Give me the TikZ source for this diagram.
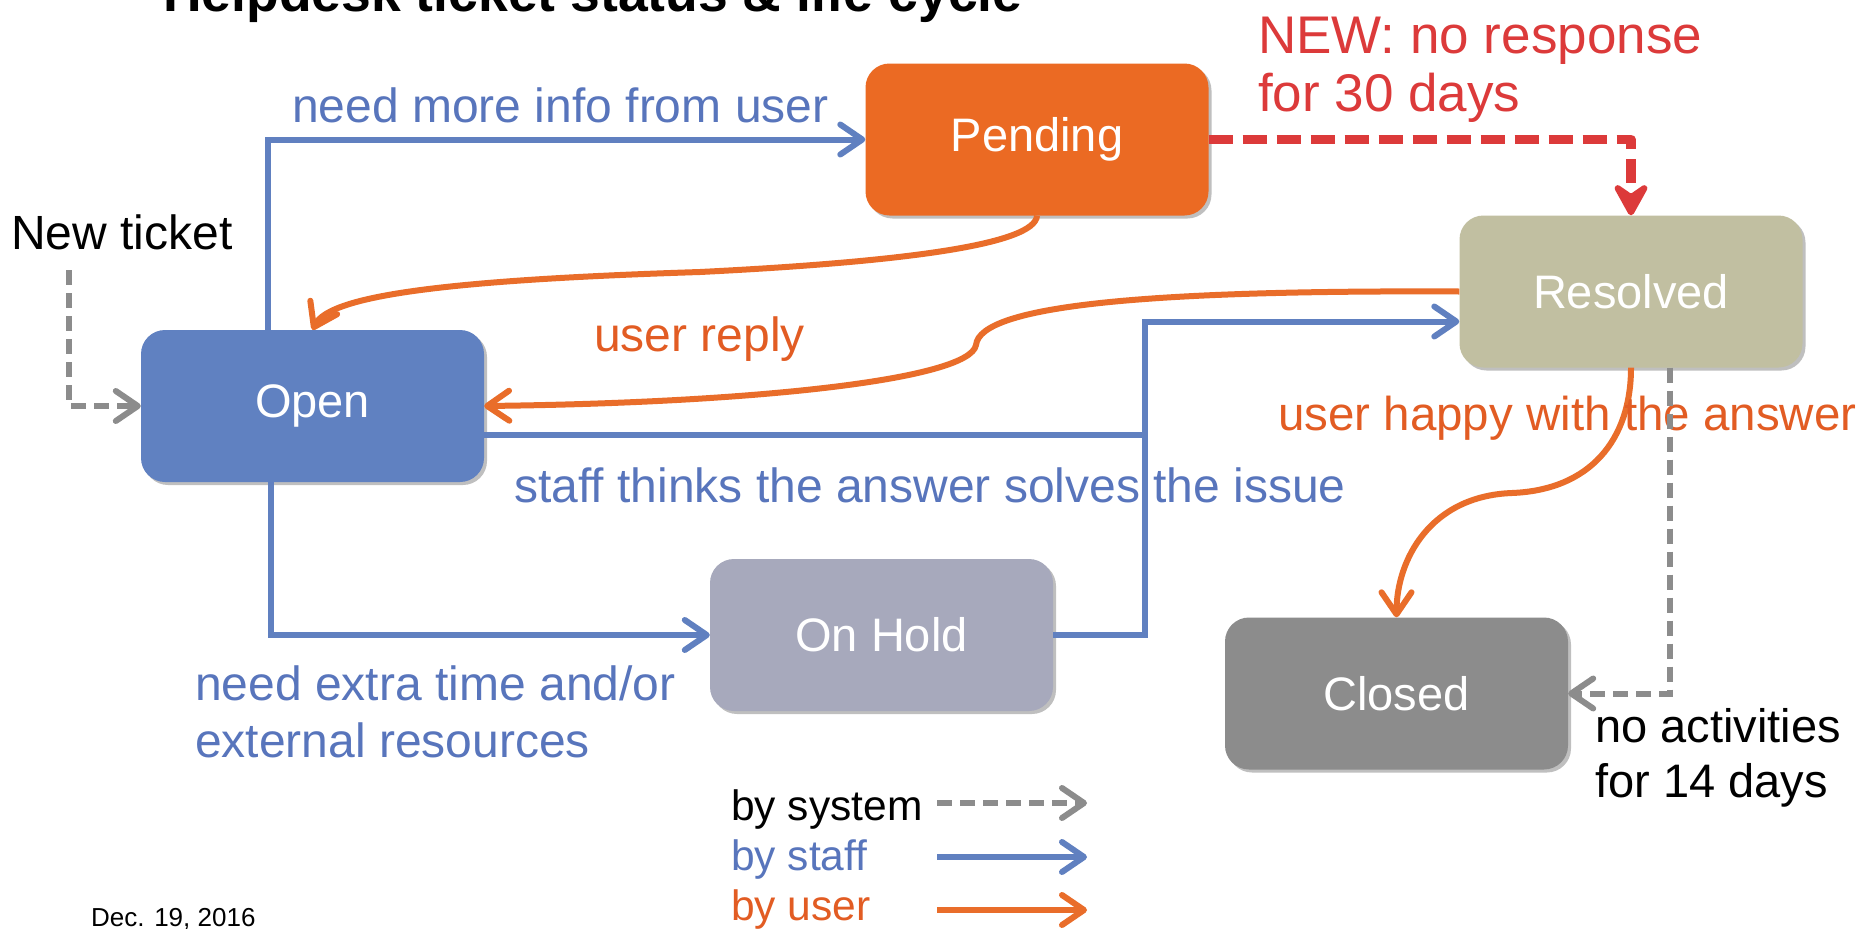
\documentclass[tikz,border=0pt]{standalone}
\usepackage{fontspec}
\setmainfont{Liberation Sans}
\usetikzlibrary{arrows.meta,shadows,calc}
\definecolor{cBlue}{RGB}{96,128,192}
\definecolor{cBlueTxt}{RGB}{88,117,188}
\definecolor{cOrange}{RGB}{233,109,42}
\definecolor{cOrangeTxt}{RGB}{226,92,35}
\definecolor{cPend}{RGB}{235,106,35}
\definecolor{cRed}{RGB}{220,58,58}
\definecolor{cGray}{RGB}{140,140,140}
\definecolor{cHold}{RGB}{167,169,188}
\definecolor{cRes}{RGB}{193,191,161}
\definecolor{cClosed}{RGB}{140,140,140}
\definecolor{cOpen}{RGB}{96,129,193}
\begin{document}
\begin{tikzpicture}[x=1pt,y=-1pt]
\tikzset{
  statebox/.style={rounded corners=24pt, minimum width=343pt, minimum height=152pt,
    text=white, inner sep=0pt, font={\fontsize{47}{56}\selectfont},
    drop shadow={shadow xshift=3pt,shadow yshift=-3pt,opacity=0.25,fill=black}},
  lbl/.style={anchor=base west, inner sep=0pt, font={\fontsize{48}{57}\selectfont}},
  staffline/.style={draw=cBlue, line width=6pt},
  staffarr/.style={staffline, -{Straight Barb[length=22pt,width=30pt,round]}},
  userarr/.style={draw=cOrange, line width=6pt, -{Straight Barb[length=22pt,width=30pt,round]}},
  sysarr/.style={draw=cGray, line width=6pt, dash pattern=on 15pt off 8pt, -{Straight Barb[length=22pt,width=30pt,round]}},
  redarr/.style={draw=cRed, line width=9.5pt, dash pattern=on 24pt off 10pt, line join=round,
    -{Stealth[length=40pt,width=44pt,inset=15pt,round]}}
}
\fill[white] (0,0) rectangle (1869,929);
\useasboundingbox (0,0) rectangle (1869,929);

% title (cut at top, as in the reference)
\node[anchor=base west, inner sep=0pt, font={\bfseries\fontsize{53.5}{60}\selectfont}] (title) at (163,11) {Helpdesk ticket status \& life cycle};

% states
\node[statebox, fill=cOpen] (open) at (312.5,406) {Open};
\node[statebox, fill=cPend] (pending) at (1037,139.5) {Pending};
\node[statebox, fill=cHold] (onhold) at (881.5,635) {On Hold};
\node[statebox, fill=cRes] (resolved) at (1631,291.5) {Resolved};
\node[statebox, fill=cClosed] (closed) at (1396.5,693.5) {Closed};

% new ticket
\node[lbl] (newticket) at (11,249) {New ticket};
\coordinate (nt) at (69,270);
\draw[sysarr] (nt) |- (open.west);

% open -> pending
\draw[staffarr] ([xshift=-45pt]open.north) |- (pending.west);
\node[lbl, text=cBlueTxt] (lblinfo) at (292,122) {need more info from user};

% pending -> open (user reply)
\draw[userarr] (pending.south) .. controls (1035,245) and (900,262) .. (700,272)
  .. controls (450,280) and (330,295) .. (open.north);
\node[lbl, text=cOrangeTxt] (lblreply) at (594,351) {user reply};

% resolved -> open
\draw[userarr] (resolved.west) .. controls (1150,290) and (980,305) .. (976,345)
  .. controls (970,380) and (750,403) .. (open.east);

% open / on hold -> resolved
\coordinate (rin) at ([yshift=-30pt]resolved.west);
\coordinate (jv) at ([xshift=-314pt]rin);
\coordinate (oe) at ([yshift=-29pt]open.east);
\draw[staffarr] (onhold.east) -| (jv) -- (rin);
\draw[staffline] (oe) -- (oe -| jv);
\node[lbl, text=cBlueTxt] (lblsolve) at (514,502) {staff thinks the answer solves the issue};

% open -> on hold
\draw[staffarr] ([xshift=-42pt]open.south) |- (onhold.west);
\node[lbl, text=cBlueTxt] (lblextraA) at (195,700) {need extra time and/or};
\node[lbl, text=cBlueTxt] (lblextraB) at (195,757) {external resources};

% pending -> resolved (red)
\draw[redarr] (pending.east) -| (resolved.north);
\node[lbl, text=cRed, font={\fontsize{53}{60}\selectfont}] (lblnewA) at (1258,53) {NEW: no response};
\node[lbl, text=cRed, font={\fontsize{53}{60}\selectfont}] (lblnewB) at (1258,111) {for 30 days};

% resolved -> closed
\draw[userarr] (resolved.south) .. controls (1631,440) and (1590,490) .. (1512,493)
  .. controls (1430,496) and (1396.5,560) .. (closed.north);
\node[lbl, text=cOrangeTxt, font={\fontsize{47.5}{57}\selectfont}] (lblhappy) at (1278,430) {user happy with the answer};
\draw[sysarr] ([xshift=39pt]resolved.south) |- (closed.east);
\node[lbl, font={\fontsize{47}{56}\selectfont}] (lblnoactA) at (1595,742) {no activities};
\node[lbl, font={\fontsize{47}{56}\selectfont}] (lblnoactB) at (1595,797) {for 14 days};

% legend
\node[lbl, font={\fontsize{42.5}{50}\selectfont}] (legsys) at (731,820) {by system};
\node[lbl, text=cBlueTxt, font={\fontsize{42.5}{50}\selectfont}] (legstaff) at (731,870) {by staff};
\node[lbl, text=cOrangeTxt, font={\fontsize{42.5}{50}\selectfont}] (leguser) at (731,920) {by user};
\coordinate (ls1) at (937,803); \coordinate (le1) at (1087,803);
\coordinate (ls2) at (937,857); \coordinate (le2) at (1087,857);
\coordinate (ls3) at (937,910); \coordinate (le3) at (1087,910);
\draw[sysarr] (ls1) -- (le1);
\draw[staffarr] (ls2) -- (le2);
\draw[userarr] (ls3) -- (le3);

% date
\node[anchor=base west, inner sep=0pt, font={\fontsize{26}{30}\selectfont}] (date) at (91,926) {Dec. 19, 2016};
\end{tikzpicture}
\end{document}
